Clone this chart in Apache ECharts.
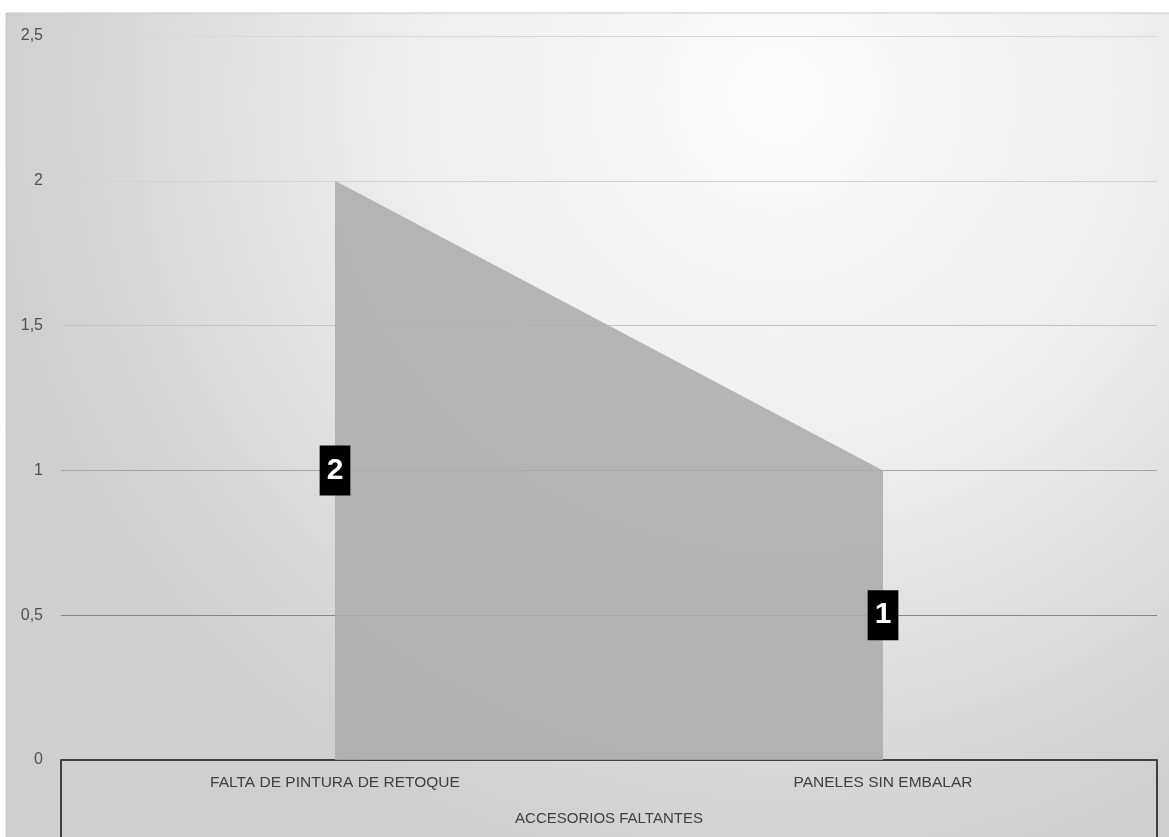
<!DOCTYPE html>
<html>
<head>
<meta charset="utf-8">
<script src="https://cdn.jsdelivr.net/npm/echarts@6/dist/echarts.min.js"></script>
<style>html,body{margin:0;padding:0;background:#fff}#c{width:1169px;height:837px}</style>
</head>
<body>
<div id="c"></div>
<script>
var categories = ['FALTA DE PINTURA DE RETOQUE', 'PANELES SIN EMBALAR'];
var groupLabels = ['ACCESORIOS FALTANTES'];
var values = [2, 1];
var yTicks = { min: 0, max: 2.5, interval: 0.5 };

var chart = echarts.init(document.getElementById('c'));
var labelPos = values.map(function (v) { return v / 2; });

chart.setOption({
  backgroundColor: '#ffffff',
  animation: false,
  graphic: [{
    type: 'rect', z: -10, silent: true,
    shape: { x: 6, y: 13, width: 1169, height: 830 },
    style: {
      fill: {
        type: 'radial', x: 0.66, y: 0.1, r: 0.95,
        colorStops: [
          { offset: 0, color: '#fcfcfc' },
          { offset: 0.45, color: '#efefef' },
          { offset: 1, color: '#cfcfcf' }
        ]
      },
      stroke: '#c8c8c8', lineWidth: 1
    }
  }],
  grid: { left: 61, right: 12, top: 36, bottom: 77, containLabel: false },
  xAxis: [{
    type: 'category', data: categories, boundaryGap: true,
    axisLine: { show: true, lineStyle: { color: '#404040', width: 2 } },
    axisTick: { show: false },
    axisLabel: { margin: 15, color: '#404040', fontFamily: 'Liberation Sans', fontSize: 15.5 },
    splitLine: { show: false }
  }, {
    type: 'category', data: groupLabels, position: 'bottom', boundaryGap: true,
    axisLine: { show: false },
    axisTick: { show: true, length: 80, lineStyle: { color: '#404040', width: 2 } },
    axisLabel: { margin: 51, color: '#404040', fontFamily: 'Liberation Sans', fontSize: 15 }
  }],
  yAxis: {
    type: 'value', min: yTicks.min, max: yTicks.max, interval: yTicks.interval,
    axisLine: { show: false }, axisTick: { show: false },
    axisLabel: {
      margin: 18, color: '#505050', fontFamily: 'Liberation Sans', fontSize: 16,
      formatter: function (v) { return String(v).replace('.', ','); }
    },
    splitLine: { show: true, lineStyle: { color: ['#404040', '#858585', '#a4a4a4', '#c4c4c4', '#d2d2d2', '#d8d8d8'], width: 1 } }
  },
  series: [{
    type: 'line', data: values, xAxisIndex: 0,
    symbol: 'none', lineStyle: { width: 0, color: '#b6b6b6' },
    areaStyle: { color: '#acacac', opacity: 0.88 },
    z: 2
  }, {
    type: 'scatter', data: labelPos, xAxisIndex: 0,
    symbolSize: 0, z: 5,
    itemStyle: { opacity: 1 },
    label: {
      show: true, position: 'inside', opacity: 1,
      formatter: function (p) { return String(values[p.dataIndex]); },
      backgroundColor: '#000000', color: '#ffffff',
      fontFamily: 'Liberation Sans', fontWeight: 'bold', fontSize: 30,
      lineHeight: 32, padding: [9, 7, 9, 7]
    }
  }]
});
</script>
</body>
</html>
